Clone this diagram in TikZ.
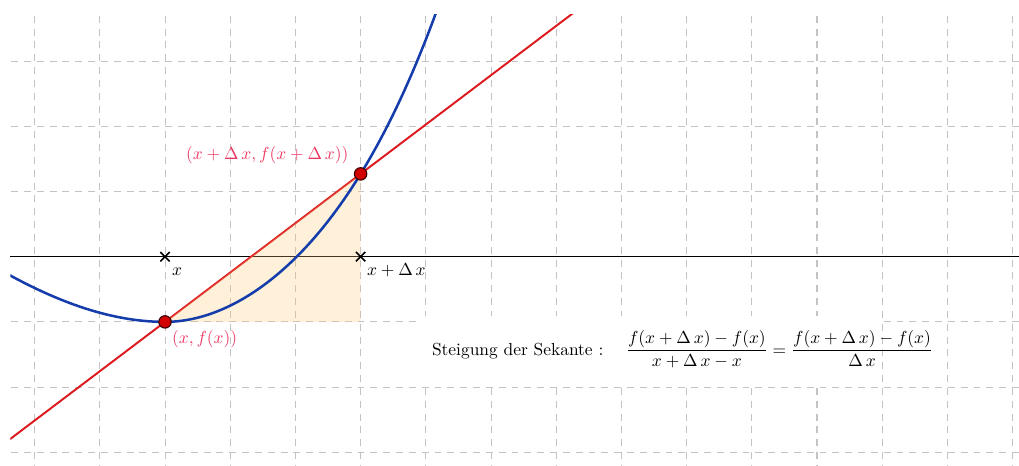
\documentclass[tikz,border=0pt]{standalone}
\usepackage{amsmath}
\usetikzlibrary{calc,shapes.misc}
\definecolor{curveblue}{RGB}{20,60,170}
\definecolor{secantred}{RGB}{220,25,30}
\definecolor{labelpink}{RGB}{235,55,95}
\definecolor{dotred}{RGB}{210,0,0}
\definecolor{shadecol}{RGB}{250,200,120}
\definecolor{gridgray}{RGB}{195,195,195}
\begin{document}
\begin{tikzpicture}[x=1cm,y=1cm,
  gridline/.style={gridgray, line width=0.45pt, dash pattern=on 3pt off 2.6pt},
  axisline/.style={black, line width=0.6pt},
  fcurve/.style={curveblue, line width=1.1pt},
  secantline/.style={secantred, line width=0.85pt},
  dotnode/.style={circle, fill=dotred, draw=black!75!red, line width=0.5pt, minimum size=5.4pt, inner sep=0pt},
  tickmark/.style={cross out, draw=black, line width=0.7pt, minimum size=3.4pt, inner sep=0pt},
  lbl/.style={inner sep=0pt, scale=0.76, transform shape},
  ptlabel/.style={lbl, text=labelpink},
]
\useasboundingbox (-2.531,-3.210) rectangle (13.098,3.937);

% grid and axis
\begin{scope}
  \clip (-2.36,-3.3) rectangle (13.2,3.70);
  \foreach \u in {-2,...,13} \draw[gridline] (\u,-3.3) -- (\u,3.70);
  \foreach \v in {-3,-2,-1,1,2,3} \draw[gridline] (-2.36,\v) -- (13.2,\v);
\end{scope}
\draw[axisline] (-2.37,0) -- (13.098,0);

% white background of the text
\fill[white] (3.93,-0.91) rectangle (10.95,-1.97);

\coordinate (P1) at (0,-1);
\coordinate (P2) at (3,1.27);
\coordinate (Q) at (3,-1);

% secant, slope triangle, curve
\begin{scope}
  \clip (-2.37,-3.3) rectangle (13.2,3.71);
  \draw[secantline] ($(P1)!-1.5!(P2)$) -- ($(P1)!2.5!(P2)$);
  \fill[shadecol, fill opacity=0.28] (P1) -- (Q) -- (P2) -- cycle;
  \draw[fcurve] plot[domain=-2.45:0, samples=40, variable=\t] (\t,{-1+0.15*\t*\t+0.01*\t*\t*\t})
     -- plot[domain=0:4.3, samples=70, variable=\t] (\t,{-1+0.2647*\t*\t-0.02117*\t*\t*\t+0.005667*\t*\t*\t*\t});
\end{scope}

% ticks and points
\node[tickmark] (t1) at (0,0) {};
\node[tickmark] (t2) at (3,0) {};
\node[dotnode] (A) at (P1) {};
\node[dotnode] (B) at (P2) {};

% labels
\node[lbl, anchor=base west] (lx) at (0.103,-0.281) {$x$};
\node[lbl, anchor=base west] (lxd) at (3.094,-0.281) {$x+\Delta\,x$};
\node[ptlabel, anchor=base west] (l1) at (0.103,-1.324) {$(x,f(x))$};
\node[ptlabel, anchor=base west] (l2) at (0.317,1.498) {$(x+\Delta\,x,f(x+\Delta\,x))$};
\node[lbl, anchor=base west] (st) at (4.09,-1.508) {Steigung der Sekante :};
\node[lbl, anchor=base west] (fo) at (7.064,-1.508) {$\dfrac{f(x+\Delta\,x)-f(x)}{x+\Delta\,x-x}=\dfrac{f(x+\Delta\,x)-f(x)}{\Delta\,x}$};
\end{tikzpicture}
\end{document}
